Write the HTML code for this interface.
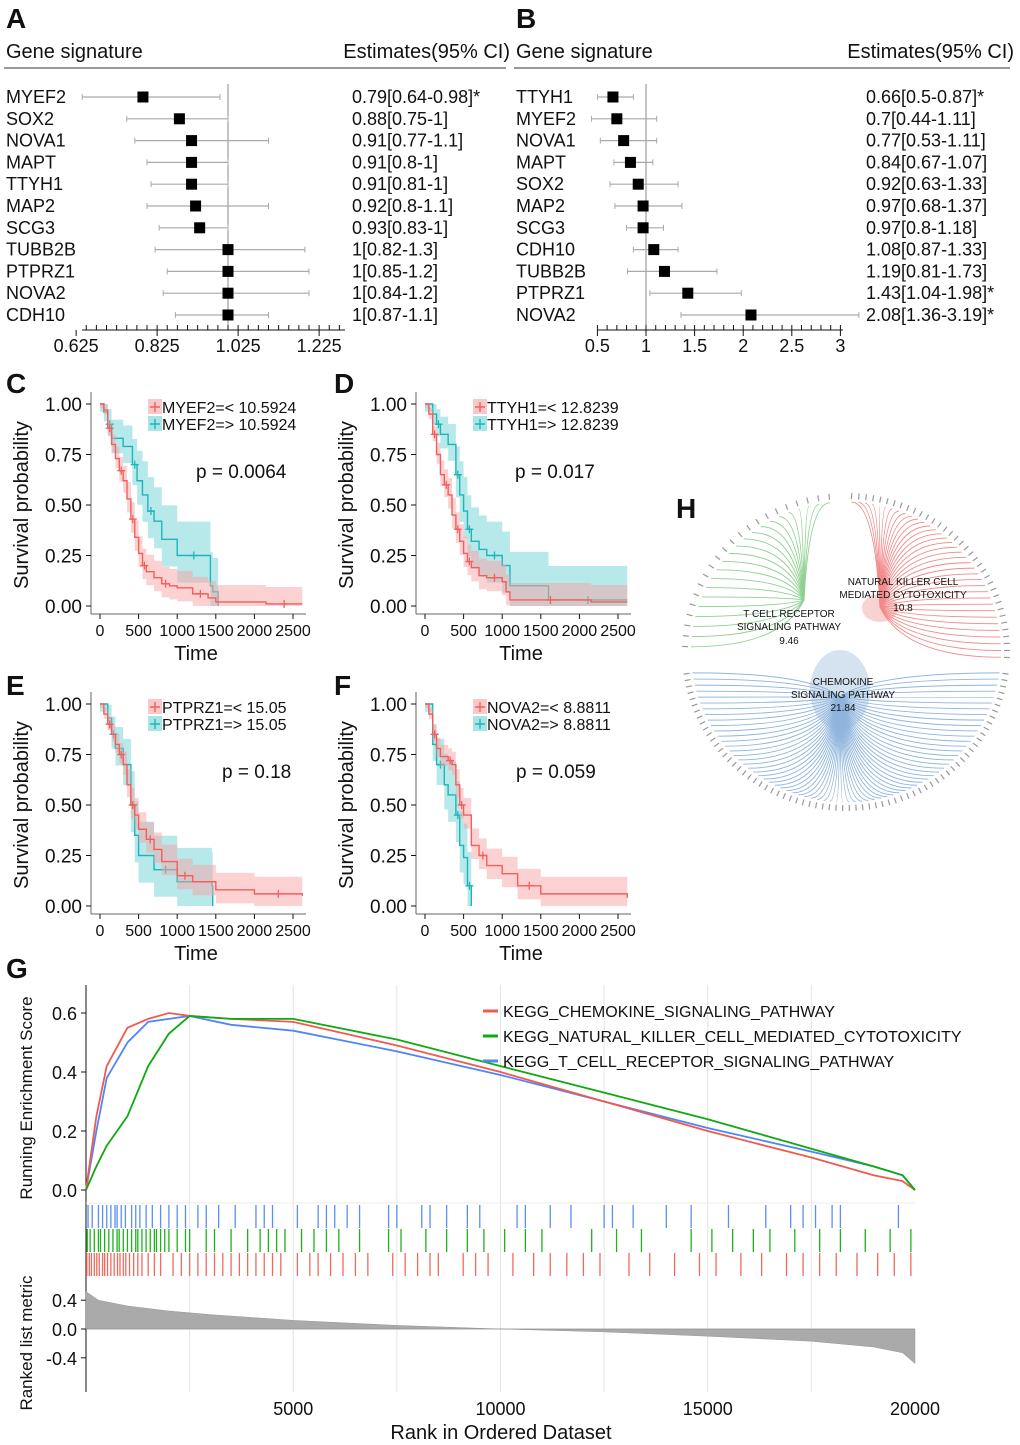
<!DOCTYPE html>
<html><head><meta charset="utf-8"><style>
html,body{margin:0;padding:0;background:#fff;}
svg{display:block;font-family:"Liberation Sans",Arial,sans-serif;}
</style></head><body>
<svg id="fig" width="1020" height="1445" viewBox="0 0 1020 1445" xmlns="http://www.w3.org/2000/svg"></svg>
<script>
// ---------- Forest A data ----------
const genesA = ["MYEF2","SOX2","NOVA1","MAPT","TTYH1","MAP2","SCG3","TUBB2B","PTPRZ1","NOVA2","CDH10"];
const estA = [0.79,0.88,0.91,0.91,0.91,0.92,0.93,1,1,1,1];
const loA = [0.64,0.75,0.77,0.8,0.81,0.8,0.83,0.82,0.85,0.84,0.87];
const hiA = [0.98,1,1.1,1,1,1.1,1,1.19,1.2,1.2,1.1];
const labA = ["0.79[0.64-0.98]*","0.88[0.75-1]","0.91[0.77-1.1]","0.91[0.8-1]","0.91[0.81-1]","0.92[0.8-1.1]","0.93[0.83-1]","1[0.82-1.3]","1[0.85-1.2]","1[0.84-1.2]","1[0.87-1.1]"];
const ticksA = [0.625,0.825,1.025,1.225];
// ---------- Forest B data ----------
const genesB = ["TTYH1","MYEF2","NOVA1","MAPT","SOX2","MAP2","SCG3","CDH10","TUBB2B","PTPRZ1","NOVA2"];
const estB = [0.66,0.7,0.77,0.84,0.92,0.97,0.97,1.08,1.19,1.43,2.08];
const loB = [0.5,0.44,0.53,0.67,0.63,0.68,0.8,0.87,0.81,1.04,1.36];
const hiB = [0.87,1.11,1.11,1.07,1.33,1.37,1.18,1.33,1.73,1.98,3.19];
const labB = ["0.66[0.5-0.87]*","0.7[0.44-1.11]","0.77[0.53-1.11]","0.84[0.67-1.07]","0.92[0.63-1.33]","0.97[0.68-1.37]","0.97[0.8-1.18]","1.08[0.87-1.33]","1.19[0.81-1.73]","1.43[1.04-1.98]*","2.08[1.36-3.19]*"];
const ticksB = [0.5,1,1.5,2,2.5,3];
// ---------- KM data ----------
const kmTicksX = [0,500,1000,1500,2000,2500];
const kmTicksY = [0,0.25,0.5,0.75,1];
const cLowT = [0,50,100,150,200,250,300,350,400,450,500,550,600,700,800,900,1000,1200,1400,1500,2150,2620];
const cLowS = [1,0.97,0.88,0.8,0.73,0.67,0.62,0.53,0.43,0.34,0.26,0.2,0.17,0.14,0.11,0.1,0.09,0.06,0.04,0.02,0.01,0.01];
const cHighT = [0,50,100,150,300,420,480,550,620,700,800,1000,1430,1460,1530];
const cHighS = [1,0.96,0.9,0.83,0.79,0.7,0.62,0.55,0.47,0.42,0.33,0.25,0.1,0.07,0];
const dLowT = [0,50,100,150,200,250,300,350,400,450,500,550,600,700,800,1000,1050,1100,2150,2620];
const dLowS = [1,0.95,0.85,0.75,0.65,0.6,0.55,0.45,0.38,0.32,0.26,0.22,0.19,0.15,0.14,0.12,0.07,0.03,0.02,0.02];
const dHighT = [0,100,150,200,300,400,450,500,550,600,700,800,1000,1100,1600,2620];
const dHighS = [1,0.95,0.9,0.85,0.8,0.65,0.55,0.47,0.38,0.32,0.28,0.25,0.2,0.1,0.03,0.03];
const eLowT = [0,50,100,150,200,250,300,350,400,450,500,600,700,800,1000,1200,1500,2000,2620];
const eLowS = [1,0.95,0.9,0.85,0.8,0.75,0.7,0.6,0.5,0.45,0.38,0.33,0.28,0.22,0.15,0.12,0.08,0.06,0.05];
const eHighT = [0,100,150,200,300,400,450,500,700,1000,1450,1460];
const eHighS = [1,0.93,0.85,0.78,0.7,0.5,0.35,0.25,0.18,0.12,0.1,0];
const fLowT = [0,50,100,150,200,300,350,400,450,500,600,700,800,1000,1200,1500,2620];
const fLowS = [1,0.95,0.85,0.78,0.74,0.72,0.7,0.6,0.5,0.45,0.3,0.25,0.2,0.16,0.1,0.06,0.04];
const fHighT = [0,100,150,250,300,400,450,500,550,600];
const fHighS = [1,0.8,0.7,0.6,0.55,0.45,0.3,0.24,0.1,0];
// ---------- GSEA data ----------
const gseaTicks = [5000,10000,15000,20000];
const esTicks = [0,0.2,0.4,0.6];
const rankT = [0,250,500,1000,1500,2000,2500,3500,5000,7500,10000,12500,15000,17500,19000,19700,20000];
const esRed = [0,0.25,0.42,0.55,0.58,0.6,0.59,0.58,0.57,0.49,0.4,0.3,0.2,0.11,0.05,0.03,0];
const esGreen = [0,0.08,0.15,0.25,0.42,0.53,0.59,0.58,0.58,0.51,0.42,0.33,0.24,0.14,0.08,0.05,0];
const esBlue = [0,0.2,0.38,0.5,0.57,0.58,0.59,0.56,0.54,0.47,0.39,0.3,0.21,0.13,0.08,0.05,0];
const rugBlue = [50,150,300,400,500,600,700,750,850,950,1100,1200,1300,1450,1600,1800,2000,2200,2400,2700,2900,3200,3600,4100,4300,4500,5100,5600,5800,6000,6300,6600,7300,7500,8100,8300,8700,9200,9500,10400,10600,11200,11700,12500,12700,13200,14000,14600,15500,16400,17000,17300,17600,18000,18200,19600];
const rugGreen = [30,100,200,300,350,450,550,650,750,800,900,1000,1100,1200,1250,1350,1450,1550,1650,1700,1800,1900,2000,2200,2400,2500,2900,3100,3500,3900,4200,4400,4600,4800,5200,5500,5800,6100,6600,7300,7600,8200,8700,9200,9600,10100,10600,11000,12200,12800,13400,14600,15100,15600,16100,16500,17100,17700,18200,18800,19400,19900];
const rugRed = [20,80,130,200,260,320,400,450,520,600,680,760,820,900,960,1050,1150,1250,1350,1500,1650,1800,2100,2300,2500,2700,2900,3100,3300,3500,3700,3900,4100,4300,4500,4700,5100,5400,5600,5900,6200,6500,6800,7400,7700,8000,8300,8500,9100,9400,9700,10300,10800,11200,11600,12000,12400,13100,13600,14200,14800,15200,15800,16300,16900,17300,17700,18100,18600,19100,19500,19900];
const metricT = [0,300,1000,2000,3000,5000,7500,10000,12500,15000,17500,19000,19700,20000];
const metricV = [0.52,0.4,0.32,0.25,0.2,0.12,0.05,0,-0.04,-0.1,-0.17,-0.25,-0.33,-0.48];
const gseaNames = ["KEGG_CHEMOKINE_SIGNALING_PATHWAY","KEGG_NATURAL_KILLER_CELL_MEDIATED_CYTOTOXICITY","KEGG_T_CELL_RECEPTOR_SIGNALING_PATHWAY"];

const NS="http://www.w3.org/2000/svg";
const svg=document.getElementById('fig');
function mk(tag,attrs,name,parent){
  const el=document.createElementNS(NS,tag);
  for(const k in attrs) el.setAttribute(k,attrs[k]);
  
  
  (parent||svg).appendChild(el);
  return el;
}
function txt(x,y,s,size,name,extra){
  const a=Object.assign({x:x,y:y,'font-size':size,fill:'#111'},extra||{});
  const t=mk('text',a,name);
  t.textContent=s;
  return t;
}
// panel labels
[["A",6,28],["B",516,28],["C",6,393],["D",334,393],["E",6,695],["F",334,695],["H",676,518],["G",6,978]].forEach(p=>{
  txt(p[1],p[2],p[0],28,'panel-label-'+p[0].toLowerCase(),{'font-weight':'bold'});
});

// ---------- forest ----------
function forest(genes,est,lo,hi,lab,ticks,o){
  const sx=v=>o.x1+(v-1)*o.k;
  const rowY=i=>97+i*21.8;
  txt(o.gx,58,"Gene signature",20,'forest-header-gene');
  txt(o.hr,58,"Estimates(95% CI)",20,'forest-header-estimate',{'text-anchor':'end'});
  mk('line',{x1:o.gx-2,x2:o.hr-4,y1:68,y2:68,stroke:'#333','stroke-width':1},'header-rule');
  mk('line',{x1:sx(1),x2:sx(1),y1:84,y2:330,stroke:'#888','stroke-width':1},'reference-line');
  mk('line',{x1:o.ax0,x2:o.ax1,y1:330,y2:330,stroke:'#111','stroke-width':1},'x-axis');
  for(let v=o.minor0; v<=o.ax1val+1e-9; v+=o.minor){
    mk('line',{x1:sx(v),x2:sx(v),y1:325,y2:330,stroke:'#111','stroke-width':1},'x-minor-tick');
  }
  ticks.forEach(t=>{
    mk('line',{x1:sx(t),x2:sx(t),y1:330,y2:336,stroke:'#111'},'x-tick');
    txt(sx(t),352,String(t),18,'x-tick-label',{'text-anchor':'middle'});
  });
  genes.forEach((g,i)=>{
    const y=rowY(i);
    txt(o.gx,y+6,g,18,'gene-label-'+g.toLowerCase());
    mk('line',{x1:sx(lo[i]),x2:sx(hi[i]),y1:y,y2:y,stroke:'#aaa','stroke-width':1.2},'ci-bar-'+g.toLowerCase());
    [lo[i],hi[i]].forEach(v=>mk('line',{x1:sx(v),x2:sx(v),y1:y-3,y2:y+3,stroke:'#aaa'},'ci-cap'));
    mk('rect',{x:sx(est[i])-5.5,y:y-5.5,width:11,height:11,fill:'#000'},'estimate-marker-'+g.toLowerCase());
    txt(o.lx,y+6,lab[i],18,'estimate-label-'+g.toLowerCase());
  });
}
forest(genesA,estA,loA,hiA,labA,ticksA,{x1:228,k:405,gx:6,hr:510,lx:352,ax0:82,ax1:345,minor0:0.65,minor:0.025,ax1val:1.28});
forest(genesB,estB,loB,hiB,labB,ticksB,{x1:646,k:97.2,gx:516,hr:1014,lx:866,ax0:598,ax1:843,minor0:0.5,minor:0.1,ax1val:3});

// ---------- KM ----------
function km(ox,oy,gene,cut,lowT,lowS,highT,highS,pval,px){
  const sx=t=>ox+100+t*0.0772;
  const sy=s=>oy+606-s*202;
  mk('line',{x1:ox+91,x2:ox+91,y1:oy+392,y2:oy+614,stroke:'#666'},'y-axis');
  mk('line',{x1:ox+91,x2:ox+306,y1:oy+614,y2:oy+614,stroke:'#666'},'x-axis');
  kmTicksY.forEach(v=>{
    mk('line',{x1:ox+86,x2:ox+91,y1:sy(v),y2:sy(v),stroke:'#111'},'y-tick');
    txt(ox+82,sy(v)+7,v.toFixed(2),19,'y-tick-label',{'text-anchor':'end'});
  });
  kmTicksX.forEach(v=>{
    mk('line',{x1:sx(v),x2:sx(v),y1:oy+614,y2:oy+619,stroke:'#111'},'x-tick');
    txt(sx(v),oy+636,String(v),16,'x-tick-label',{'text-anchor':'middle'});
  });
  txt(ox+196,oy+660,"Time",20,'x-axis-title',{'text-anchor':'middle'});
  txt(0,0,"Survival probability",20,'y-axis-title',{'text-anchor':'middle',transform:`translate(${ox+28},${oy+505}) rotate(-90)`});
  function series(T,S,col,band,w,name){
    const pts=[];
    for(let i=0;i<T.length;i++){
      const x0=sx(T[i]), x1=sx(i+1<T.length?T[i+1]:T[i]);
      pts.push([x0,S[i]],[x1,S[i]]);
    }
    const wv=s=>w*(0.4+Math.min(1,(1-s)*2.2))*(s>0?1:0.3);
    const top=pts.map(p=>[p[0],sy(Math.min(1,p[1]+wv(p[1])))]);
    const bot=pts.map(p=>[p[0],sy(Math.max(0,p[1]-wv(p[1])*0.8))]).reverse();
    mk('polygon',{points:top.concat(bot).map(p=>p.join(',')).join(' '),fill:band,opacity:0.5},name+'-ci-band');
    let d='M'+sx(T[0])+','+sy(S[0]);
    for(let i=1;i<T.length;i++){d+=' H'+sx(T[i])+' V'+sy(S[i]);}
    mk('path',{d:d,fill:'none',stroke:col,'stroke-width':1.4},name+'-curve');
    for(let i=2;i<T.length-1;i+=3){
      const x=(sx(T[i])+sx(T[i+1]))/2,y=sy(S[i]);
      mk('path',{d:`M${x-4},${y}H${x+4}M${x},${y-4}V${y+4}`,stroke:col,'stroke-width':1.3},name+'-censor-mark');
    }
  }
  series(highT,highS,'#1fb5b8','#6fd3d6',0.12,'high-group');
  series(lowT,lowS,'#f0605e','#f7a3a3',0.06,'low-group');
  const lx=ox+148;
  [[lowT,'#f0605e','#f7a3a3','=< '],[highT,'#1fb5b8','#6fd3d6','=> ']].forEach((L,i)=>{
    const y=oy+407+i*17;
    mk('rect',{x:lx,y:y-8,width:14,height:15,fill:L[2],opacity:0.6},'legend-swatch');
    mk('path',{d:`M${lx+2},${y}H${lx+12}M${lx+7},${y-5}V${y+5}`,stroke:L[1],'stroke-width':1.4},'legend-mark');
    txt(lx+14,y+6,gene+L[3]+cut,16,'legend-entry');
  });
  txt(px,oy+478,"p = "+pval,19,'p-value');
}
km(0,0,"MYEF2","10.5924",cLowT,cLowS,cHighT,cHighS,"0.0064",196);
km(325,0,"TTYH1","12.8239",dLowT,dLowS,dHighT,dHighS,"0.017",515);
km(0,300,"PTPRZ1","15.05",eLowT,eLowS,eHighT,eHighS,"0.18",222);
km(325,300,"NOVA2","8.8811",fLowT,fLowS,fHighT,fHighS,"0.059",516);

// ---------- H network ----------
(function(){
  const cx=846,cy=652,rx=155,ry=150;
  const groups=[
    {n:22,a0:178,a1:96,hub:[804,600],col:'#8fcf8f',name:'t-cell'},
    {n:36,a0:88,a1:-2,hub:[880,607],col:'#f28a8a',name:'nk-cell'},
    {n:70,a0:-8,a1:-172,hub:[840,697],col:'#8fb4dc',name:'chemokine'}];
  mk('ellipse',{cx:880,cy:608,rx:18,ry:14,fill:'#f4b3b3',opacity:0.6},'nk-hub');
  mk('ellipse',{cx:840,cy:690,rx:30,ry:40,fill:'#b9d0e8',opacity:0.6},'chemokine-hub');
  groups.forEach(g=>{
    for(let i=0;i<g.n;i++){
      const a=(g.a0+(g.a1-g.a0)*i/(g.n-1))*Math.PI/180;
      const px=cx+rx*Math.cos(a),py=cy-ry*Math.sin(a);
      mk('path',{d:`M${g.hub[0]},${g.hub[1]} Q${g.hub[0]+(px-g.hub[0])*0.2},${py} ${px},${py}`,fill:'none',stroke:g.col,'stroke-width':0.9},g.name+'-edge');
      const qx=cx+(rx+9)*Math.cos(a),qy=cy-(ry+9)*Math.sin(a);
      mk('line',{x1:cx+(rx+3)*Math.cos(a),y1:cy-(ry+3)*Math.sin(a),x2:qx,y2:qy,stroke:'#999','stroke-width':1.2},'gene-node-label');
    }
  });
  const lab=[["NATURAL KILLER CELL",903,585],["MEDIATED CYTOTOXICITY",903,598],["10.8",903,611],
    ["T CELL RECEPTOR",789,617],["SIGNALING PATHWAY",789,630],["9.46",789,644],
    ["CHEMOKINE",843,685],["SIGNALING PATHWAY",843,698],["21.84",843,711]];
  lab.forEach(l=>txt(l[1],l[2],l[0],10,'pathway-label',{'text-anchor':'middle'}));
})();

// ---------- G GSEA ----------
(function(){
  const sx=r=>86+r*0.04145;
  const sy=v=>1190-v*295;
  const my=v=>1329-v*72;
  for(let r=2500;r<=17500;r+=2500){
    mk('line',{x1:sx(r),x2:sx(r),y1:985,y2:1392,stroke:'#e4e4e4','stroke-width':1},'grid-line');
  }
  mk('line',{x1:86,x2:86,y1:985,y2:1392,stroke:'#111'},'y-axis');
  mk('line',{x1:86,x2:915,y1:1203,y2:1203,stroke:'#eee'},'panel-divider');
  esTicks.forEach(v=>{
    mk('line',{x1:81,x2:86,y1:sy(v),y2:sy(v),stroke:'#111'},'es-tick');
    txt(77,sy(v)+7,v.toFixed(1),18,'es-tick-label',{'text-anchor':'end'});
  });
  [0.4,0,-0.4].forEach(v=>{
    mk('line',{x1:81,x2:86,y1:my(v),y2:my(v),stroke:'#111'},'metric-tick');
    txt(77,my(v)+7,v.toFixed(1),18,'metric-tick-label',{'text-anchor':'end'});
  });
  gseaTicks.forEach(v=>{
    txt(sx(v),1415,String(v),18,'x-tick-label',{'text-anchor':'middle'});
  });
  txt(501,1439,"Rank in Ordered Dataset",20,'x-axis-title',{'text-anchor':'middle'});
  txt(0,0,"Running Enrichment Score",17,'es-axis-title',{'text-anchor':'middle',transform:'translate(32,1098) rotate(-90)'});
  txt(0,0,"Ranked list metric",17,'metric-axis-title',{'text-anchor':'middle',transform:'translate(32,1343) rotate(-90)'});
  let d='M'+sx(0)+','+my(0);
  metricT.forEach((t,i)=>{d+=' L'+sx(t)+','+my(metricV[i]);});
  d+=' L'+sx(20000)+','+my(0)+'Z';
  mk('path',{d:d,fill:'#aaa',stroke:'#999','stroke-width':0.5},'ranked-metric-area');
  mk('line',{x1:86,x2:915,y1:my(0),y2:my(0),stroke:'#888','stroke-width':0.6},'metric-zero');
  [[rugBlue,'#5b8ff0',1205],[rugGreen,'#1fb01f',1229],[rugRed,'#f06a5e',1253]].forEach((R,k)=>{
    R[0].forEach(r=>mk('line',{x1:sx(r),x2:sx(r),y1:R[2],y2:R[2]+23,stroke:R[1],'stroke-width':1.3},['t-cell','nk-cell','chemokine'][k]+'-hit'));
  });
  [[esBlue,'#4f86f7','t-cell-es-curve'],[esRed,'#f05a50','chemokine-es-curve'],[esGreen,'#11a911','nk-cell-es-curve']].forEach(c=>{
    mk('polyline',{points:rankT.map((t,i)=>sx(t)+','+sy(c[0][i])).join(' '),fill:'none',stroke:c[1],'stroke-width':1.8},c[2]);
  });
  const lc=['#f05a50','#11a911','#4f86f7'];
  gseaNames.forEach((n,i)=>{
    const y=1011+i*25;
    mk('line',{x1:483,x2:498,y1:y,y2:y,stroke:lc[i],'stroke-width':3},'legend-line');
    txt(503,y+6,n,16,'legend-entry');
  });
})();
</script>
</body></html>
